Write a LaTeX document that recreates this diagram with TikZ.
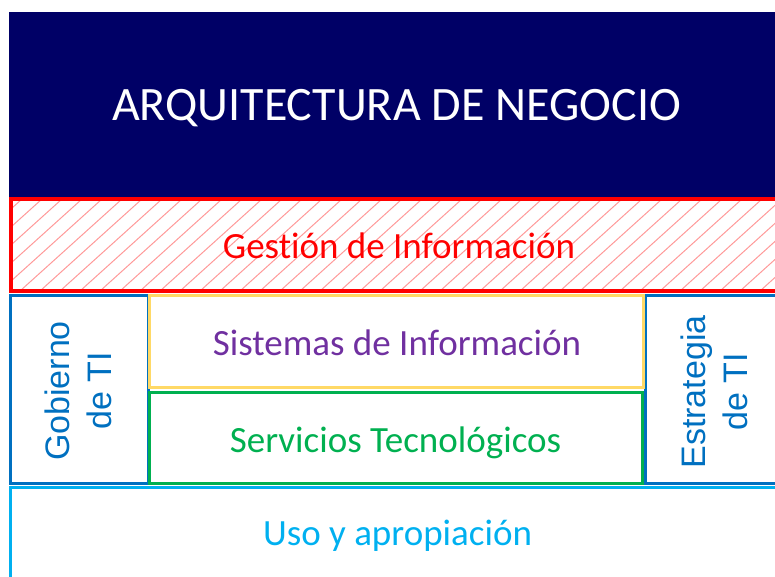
\documentclass[tikz,border=0pt]{standalone}
\usepackage{fontspec}
\setmainfont[Ligatures=NoCommon]{Carlito}
\newfontfamily\sidefont{Liberation Sans}
\definecolor{navy}{HTML}{000066}
\definecolor{gestred}{HTML}{FF0000}
\definecolor{hatchred}{HTML}{FF9999}
\definecolor{tiblue}{HTML}{0070C0}
\definecolor{sisyellow}{HTML}{FFD966}
\definecolor{sispurple}{HTML}{7030A0}
\definecolor{srvgreen}{HTML}{00B050}
\definecolor{usoblue}{HTML}{00B0F0}
\tikzset{
  layer/.style={line width=3pt},
  caption/.style={font=\fontsize{37}{40}\selectfont, inner sep=0pt, anchor=base},
  sidecaption/.style={font=\sidefont\fontsize{34}{42}\selectfont, align=center, rotate=90, inner sep=0pt}
}
\begin{document}
\begin{tikzpicture}[x=1pt,y=-1pt]
  \useasboundingbox (0,0) rectangle (775,576);
  \clip (0,0) rectangle (775,576);
  % business layer
  \fill[navy] (9,12) rectangle (800,197);
  \node[font=\fontsize{48}{50}\selectfont, text=white, inner sep=0pt, anchor=base] (negocio) at (396.5,120) {ARQUITECTURA DE NEGOCIO};
  % information layer, hatched
  \begin{scope}
    \clip (10.5,199) rectangle (800,291);
    \foreach \x in {-120,-100,...,820}
      \draw[hatchred, line width=1pt] (\x,291) -- ++(102,-92);
  \end{scope}
  \draw[gestred, line width=4pt] (10.5,199) rectangle (800,291);
  \node[caption, text=gestred] (gestion) at (399,258) {Gestión de Información};
  % side columns
  \draw[layer, tiblue] (10.5,295.5) rectangle (148,483.5);
  \draw[layer, tiblue] (645,295.5) rectangle (800,483.5);
  \node[sidecaption, text=tiblue] (gobierno) at (78,391) {Gobierno\\de TI};
  \node[sidecaption, text=tiblue] (estrategia) at (714,392) {Estrategia\\de TI};
  % middle blocks
  \draw[layer, sisyellow] (149,295.5) rectangle (643.5,387.5);
  \node[caption, text=sispurple] (sistemas) at (397,355) {Sistemas de Información};
  \draw[layer, srvgreen] (149,392) rectangle (642.5,483.5);
  \node[caption, text=srvgreen] (servicios) at (395.5,452) {Servicios Tecnológicos};
  % use layer
  \draw[layer, usoblue] (10.5,487) rectangle (800,600);
  \node[caption, text=usoblue] (uso) at (397.5,545) {Uso y apropiación};
\end{tikzpicture}
\end{document}
